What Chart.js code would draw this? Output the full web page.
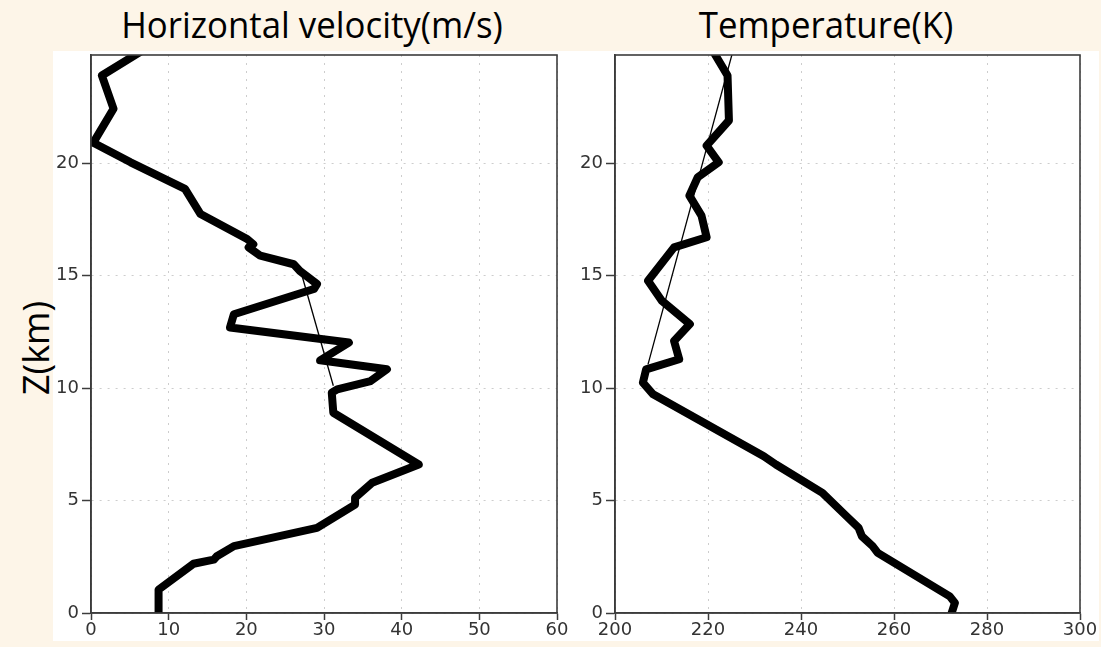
<!DOCTYPE html>
<html>
<head>
<meta charset="utf-8">
<script src="https://cdn.jsdelivr.net/npm/chart.js"></script>
<style>
  html, body { margin: 0; padding: 0; }
  body { width: 1101px; height: 647px; overflow: hidden; position: relative; background: #fdf5e8; font-family: "Open Sans", sans-serif; }
  #panel { position: absolute; left: 53px; top: 51px; width: 1046px; height: 590px; background: #fff; }
  .wrap { position: absolute; top: 0; height: 647px; }
  #w1 { left: 0; width: 575px; }
  #w2 { left: 575px; width: 526px; }
  .title { position: absolute; top: 4px; font-size: 37px; line-height: 40px; color: #000; white-space: nowrap; transform: translateX(-50%) scaleX(0.94); }
  #zlab { position: absolute; left: 36px; top: 348px; font-size: 36px; line-height: 40px; white-space: nowrap; transform: translate(-50%, -50%) rotate(-90deg); }
</style>
</head>
<body>
<div id="panel"></div>
<div class="title" style="left:312px">Horizontal velocity(m/s)</div>
<div class="title" style="left:826px">Temperature(K)</div>
<div id="zlab">Z(km)</div>
<div class="wrap" id="w1"><canvas id="c1"></canvas></div>
<div class="wrap" id="w2"><canvas id="c2"></canvas></div>
<script>
// 수평 풍속 프로파일 (높이 km, 풍속 m/s)
const windKm = [0, 1.04, 2.19, 2.37, 2.52, 2.97, 3.78, 4.82, 5.12, 5.79, 6.6, 8.9, 9.79, 9.94, 10.31, 10.83, 11.23, 12.02, 12.69, 13.28, 14.4, 14.62, 15.2, 15.5, 15.88, 16.25, 16.39, 16.62, 17.73, 18.85, 20.03, 20.9, 22.41, 23.89, 24.93];
const windSpeed = [8.7, 8.7, 13.2, 15.8, 16.2, 18.4, 29.1, 34.0, 34.0, 36.2, 42.2, 31.2, 31.0, 31.7, 36.0, 38.1, 29.5, 33.2, 17.9, 18.4, 28.7, 29.1, 26.9, 26.1, 21.8, 20.3, 20.9, 20.1, 14.1, 12.1, 5.1, 0.3, 2.9, 1.4, 6.3];
// 풍속 추세선
const windFitKm = [10.1, 15.2];
const windFitSpeed = [31.2, 27.0];

// 기온 프로파일 (높이 km, 기온 K)
const tempKm = [0, 0.45, 0.74, 2.67, 2.97, 3.41, 3.78, 4.3, 5.34, 6.6, 6.97, 9.72, 10.24, 10.83, 11.28, 12.09, 12.84, 13.87, 14.77, 16.25, 16.7, 17.66, 18.55, 19.37, 20.03, 20.77, 21.89, 23.89, 24.93];
const tempK = [272.4, 273.1, 272.0, 256.5, 255.4, 253.1, 252.4, 249.8, 244.6, 234.6, 232.0, 208.2, 206.0, 206.7, 213.8, 212.7, 216.1, 210.1, 207.1, 212.7, 219.7, 218.6, 216.0, 217.8, 222.3, 219.7, 224.5, 224.2, 221.2];
// 기온 추세선
const tempFitKm = [11.05, 24.93];
const tempFitK = [207.1, 225.3];

// 축 눈금
const zTicks = [0, 5, 10, 15, 20];
const windTicks = [0, 10, 20, 30, 40, 50, 60];
const tempTicks = [200, 220, 240, 260, 280, 300];

const toPoints = (xs, ys) => xs.map((x, i) => ({ x: x, y: ys[i] }));

// 그래프 테두리
const framePlugin = {
  id: 'frame',
  afterDatasetsDraw(chart) {
    const { ctx, chartArea: a } = chart;
    ctx.save();
    ctx.strokeStyle = '#3c3c3c';
    ctx.lineWidth = 1.6;
    ctx.strokeRect(a.left, a.top, a.right - a.left, a.bottom - a.top);
    ctx.restore();
  }
};

function makeChart(canvasId, profile, fit, xTicks, yWidth, padding) {
  const tickFont = { family: "'DejaVu Sans', sans-serif", size: 18 };
  return new Chart(document.getElementById(canvasId), {
    type: 'scatter',
    data: {
      datasets: [{
        data: profile,
        showLine: true,
        borderColor: '#000',
        borderWidth: 8,
        borderJoinStyle: 'round',
        borderCapStyle: 'round',
        pointRadius: 0,
        tension: 0
      }, {
        data: fit,
        showLine: true,
        borderColor: '#000',
        borderWidth: 1.3,
        pointRadius: 0
      }]
    },
    options: {
      responsive: true,
      maintainAspectRatio: false,
      animation: false,
      layout: { padding: padding },
      scales: {
        x: {
          type: 'linear',
          min: xTicks[0],
          max: xTicks[xTicks.length - 1],
          afterBuildTicks: s => { s.ticks = xTicks.map(v => ({ value: v })); },
          afterFit: s => { s.height = 28; },
          grid: { color: '#cdcdcd', lineWidth: 1, tickColor: '#3c3c3c', tickLength: 7, tickWidth: 1.5 },
          border: { color: '#3c3c3c', width: 1.6, dash: [2, 6] },
          ticks: { color: '#333', font: tickFont, padding: 0, maxRotation: 0, autoSkip: false }
        },
        y: {
          type: 'linear',
          min: 0,
          max: 24.8,
          afterBuildTicks: s => { s.ticks = zTicks.map(v => ({ value: v })); },
          afterFit: s => { s.width = yWidth; },
          grid: { color: '#cdcdcd', lineWidth: 1, tickColor: '#3c3c3c', tickLength: 9, tickWidth: 1.5 },
          border: { color: '#3c3c3c', width: 1.6, dash: [2, 6] },
          ticks: { color: '#333', font: tickFont, padding: 3, autoSkip: false }
        }
      },
      plugins: {
        legend: { display: false },
        tooltip: { enabled: false }
      }
    },
    plugins: [framePlugin]
  });
}

makeChart('c1', toPoints(windSpeed, windKm), toPoints(windFitSpeed, windFitKm), windTicks, 41,
  { left: 50, right: 18, top: 55, bottom: 6 });
makeChart('c2', toPoints(tempK, tempKm), toPoints(tempFitK, tempFitKm), tempTicks, 40,
  { left: 0, right: 21, top: 55, bottom: 6 });
</script>
</body>
</html>
